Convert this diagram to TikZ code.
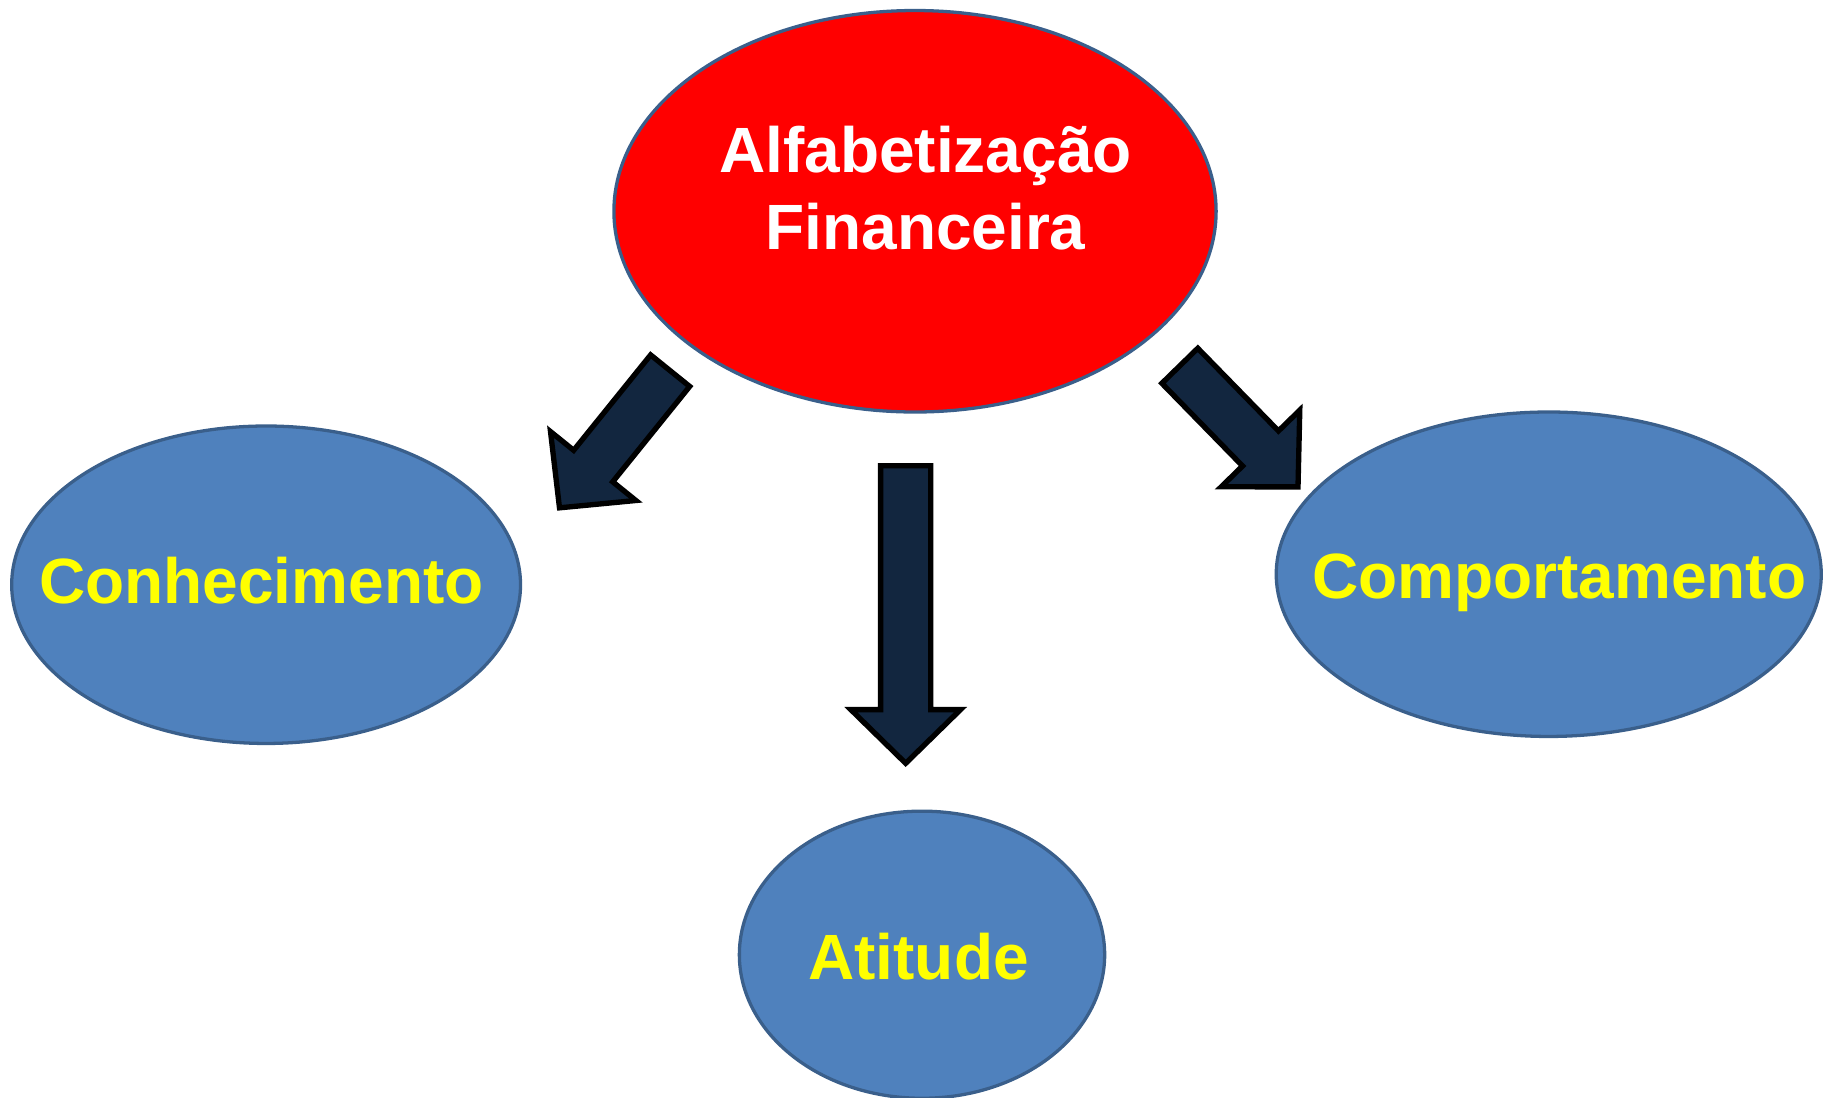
\documentclass[tikz,border=0pt]{standalone}
\usepackage{fontspec}
\setmainfont{Liberation Sans}
\usepackage{tikz}
\usetikzlibrary{shapes.geometric}
\pgfdeclarelayer{bg}
\pgfsetlayers{bg,main}
\definecolor{topred}{HTML}{FF0000}
\definecolor{ovalblue}{HTML}{4F81BD}
\definecolor{ovalline}{HTML}{3A5F8B}
\definecolor{arrownavy}{HTML}{12263F}
\definecolor{textyellow}{HTML}{FFFF00}
\tikzset{
  oval/.style={ellipse, draw=ovalline, line width=0.8pt, fill=ovalblue, inner sep=0pt},
  ovaltext/.style={font=\fontsize{15.6}{18.8}\selectfont\bfseries, text=textyellow, align=center, inner sep=0pt},
  bigarrow/.style={draw=black, line width=1.3pt, line join=miter, fill=arrownavy}
}

\begin{document}
\begin{tikzpicture}
        \useasboundingbox (0cm, 0cm) rectangle (15.68cm, -9.40cm);
        \node (alfa) [oval, fill=topred, minimum width=5.16cm, minimum height=3.44cm] at (7.84cm, -1.81cm) {};
        \node (conh) [oval, minimum width=4.36cm, minimum height=2.72cm] at (2.28cm, -5.01cm) {};
        \node (comp) [oval, minimum width=4.67cm, minimum height=2.78cm] at (13.27cm, -4.92cm) {};
        \node (atit) [oval, minimum width=3.13cm, minimum height=2.46cm] at (7.90cm, -8.18cm) {};
        \node (alfatext) [ovaltext, text=white] at ([shift={(0.09cm, 0.20cm)}]alfa.center) {Alfabetização\\Financeira};
        \node (conhtext) [ovaltext, anchor=base] at ([shift={(-0.04cm, -0.16cm)}]conh.center) {Conhecimento};
        \node (comptext) [ovaltext, anchor=base] at ([shift={(0.09cm, -0.21cm)}]comp.center) {Comportamento};
        \node (atittext) [ovaltext, anchor=base] at ([shift={(-0.03cm, -0.21cm)}]atit.center) {Atitude};
        \begin{pgfonlayer}{bg}
                \begin{scope}[shift={(5.742cm, -3.176cm)}, rotate=231.1]
                        \draw [bigarrow] (0, -0.215) -- (1.05, -0.215) -- (1.05, -0.47) -- (1.51, 0) -- (1.05, 0.47) -- (1.05, 0.215) -- (0, 0.215) -- cycle;
                \end{scope}
                \begin{scope}[shift={(7.76cm, -3.99cm)}, rotate=-90]
                        \draw [bigarrow] (0, -0.215) -- (2.09, -0.215) -- (2.09, -0.47) -- (2.55, 0) -- (2.09, 0.47) -- (2.09, 0.215) -- (0, 0.215) -- cycle;
                \end{scope}
                \begin{scope}[shift={(10.109cm, -3.134cm)}, rotate=-45.7]
                        \draw [bigarrow] (0, -0.215) -- (0.99, -0.215) -- (0.99, -0.47) -- (1.45, 0) -- (0.99, 0.47) -- (0.99, 0.215) -- (0, 0.215) -- cycle;
                \end{scope}
        \end{pgfonlayer}
\end{tikzpicture}
\end{document}
